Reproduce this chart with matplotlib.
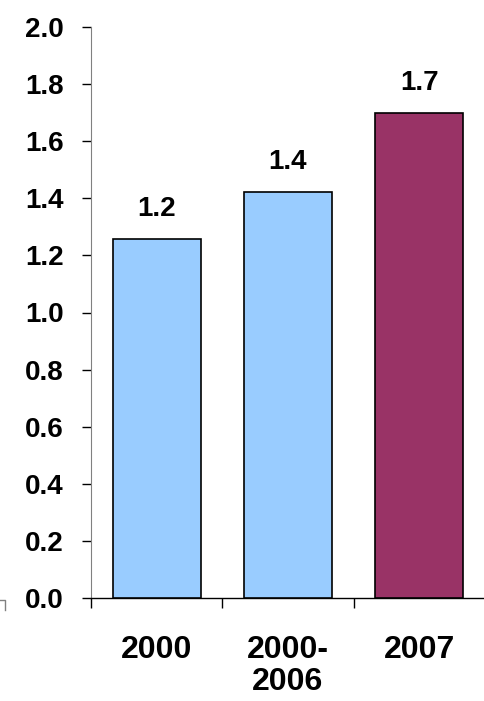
import matplotlib
matplotlib.use("Agg")
import matplotlib.pyplot as plt
from matplotlib.lines import Line2D
import numpy as np

# data
categories = ['2000', '2000-\n2006', '2007']
values = [1.257, 1.422, 1.70]
labels = ['1.2', '1.4', '1.7']
colors = ['#99CCFF', '#99CCFF', '#993366']

plt.rcParams['font.family'] = ['Liberation Sans', 'DejaVu Sans']
plt.rcParams['font.weight'] = 'bold'

W, H = 485, 701
fig = plt.figure(figsize=(W / 100, H / 100), dpi=100)
ax = fig.add_axes([91 / W, 1 - 598 / H, 1 - 91 / W, (598 - 27) / H])

x = np.arange(len(categories))
ax.bar(x, values, width=0.67, color=colors, edgecolor='black', linewidth=1.2, zorder=3)

for xi, v, lab in zip(x, values, labels):
    ax.text(xi, v + 0.06, lab, ha='center', va='bottom', fontsize=20, fontweight='bold')

ax.set_xlim(-0.5, -0.5 + (W - 91) / 134)
ax.set_ylim(0, 2.0)
ax.set_yticks(np.arange(0, 2.01, 0.2))
ax.set_yticklabels(['%.1f' % v for v in np.arange(0, 2.01, 0.2)], fontsize=20, fontweight='bold')

# category boundaries as ticks, names as minor labels
ax.set_xticks([-0.5, 0.5, 1.5, 2.5])
ax.set_xticklabels([])
ax.set_xticks(x, minor=True)
ax.set_xticklabels(categories, minor=True, fontsize=23, fontweight='bold', linespacing=1.05, va='top')
ax.tick_params(axis='x', which='major', length=7, width=1, color='black', direction='out')
ax.tick_params(axis='x', which='minor', length=0, pad=27)
ax.tick_params(axis='y', length=6.5, width=1, color='black', pad=13, direction='out')

for s in ['top', 'right']:
    ax.spines[s].set_visible(False)
ax.spines['left'].set_color('#808080')
ax.spines['bottom'].set_color('black')
ax.spines['bottom'].set_linewidth(1)

# small stray mark at the lower left
fig.add_artist(Line2D([0, 5 / W, 5 / W], [1 - 600 / H, 1 - 600 / H, 1 - 610 / H],
                      color='#808080', linewidth=1))

fig.savefig('out.png', dpi=100)
